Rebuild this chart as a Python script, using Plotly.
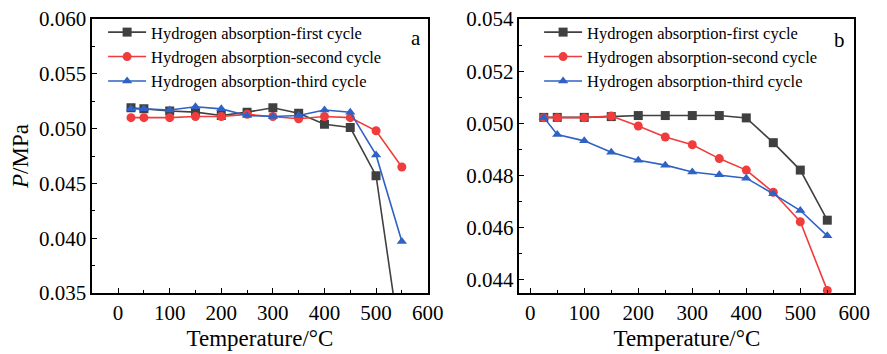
import plotly.graph_objects as go

# ---- data ----
temps = [25, 50, 100, 150, 200, 250, 300, 350, 400, 450, 500, 550]

a_first = [0.0519, 0.0518, 0.0516, 0.0515, 0.0512, 0.0515, 0.0519, 0.0514, 0.0504, 0.0501, 0.0457, 0.0295]
a_second = [0.0510, 0.0510, 0.0510, 0.0511, 0.0511, 0.0513, 0.0511, 0.0509, 0.0511, 0.0510, 0.0498, 0.0465]
a_third = [0.0518, 0.0518, 0.0517, 0.0520, 0.0518, 0.0512, 0.0511, 0.0512, 0.0517, 0.0515, 0.0476, 0.0397]

b_first = [0.05023, 0.05023, 0.05023, 0.05026, 0.0503, 0.0503, 0.0503, 0.0503, 0.05021, 0.04926, 0.04821, 0.04629]
b_second = [0.05022, 0.05022, 0.05022, 0.05028, 0.0499, 0.04948, 0.04918, 0.04865, 0.04821, 0.04736, 0.04623, 0.0436]
b_third = [0.05023, 0.04957, 0.04933, 0.04889, 0.04859, 0.0484, 0.04814, 0.04803, 0.0479, 0.0473, 0.04666, 0.04569]

names = ["Hydrogen absorption-first cycle",
         "Hydrogen absorption-second cycle",
         "Hydrogen absorption-third cycle"]
colors = ["#404040", "#f03c3c", "#2f62c4"]
symbols = ["square", "circle", "triangle-up"]

x_ticks = [0, 100, 200, 300, 400, 500, 600]
a_yticks = [0.035, 0.040, 0.045, 0.050, 0.055, 0.060]
b_yticks = [0.044, 0.046, 0.048, 0.050, 0.052, 0.054]

FONT = "Liberation Serif, Times New Roman, serif"
W, H = 887, 354

fig = go.Figure()

for i, ys in enumerate([a_first, a_second, a_third]):
    fig.add_trace(go.Scatter(
        x=temps, y=ys, name=names[i], mode="lines+markers",
        line=dict(color=colors[i], width=1.6),
        marker=dict(symbol=symbols[i], size=9, color=colors[i]),
        xaxis="x", yaxis="y", legend="legend", cliponaxis=True))

for i, ys in enumerate([b_first, b_second, b_third]):
    fig.add_trace(go.Scatter(
        x=temps, y=ys, name=names[i], mode="lines+markers",
        line=dict(color=colors[i], width=1.6),
        marker=dict(symbol=symbols[i], size=9, color=colors[i]),
        xaxis="x2", yaxis="y2", legend="legend2", cliponaxis=False))

axis_common = dict(
    showline=True, linecolor="black", linewidth=1.5, mirror=True,
    ticks="inside", ticklen=5, tickwidth=1.2, tickcolor="black",
    showgrid=False, zeroline=False,
    tickfont=dict(family=FONT, size=21, color="black"),
    minor=dict(ticks="inside", ticklen=3, tickwidth=1.2, tickcolor="black", showgrid=False),
)

xd1 = [94 / W, 435.5 / W]
xd2 = [529 / W, 870 / W]

fig.update_layout(
    width=W, height=H,
    margin=dict(l=0, r=0, t=19, b=61),
    paper_bgcolor="white", plot_bgcolor="white",
    font=dict(family=FONT, color="black"),
    xaxis=dict(domain=xd1, range=[-50, 600], tickvals=x_ticks, anchor="y",
               title=dict(text="Temperature/°C", font=dict(family=FONT, size=23), standoff=6),
               minor_dtick=50, **axis_common),
    yaxis=dict(range=[0.035, 0.060], tickvals=a_yticks, tickformat=".3f", anchor="x",
               title=dict(text="<i>P</i>/MPa", font=dict(family=FONT, size=23), standoff=4),
               minor_dtick=0.0025, **axis_common),
    xaxis2=dict(domain=xd2, range=[-20, 600], tickvals=x_ticks, anchor="y2",
                title=dict(text="Temperature/°C", font=dict(family=FONT, size=23), standoff=6),
                minor_dtick=50, **axis_common),
    yaxis2=dict(range=[0.0435, 0.054], tickvals=b_yticks, tickformat=".3f", anchor="x2",
                ticklabelstandoff=0, minor_dtick=0.001, **axis_common),
    legend=dict(x=105 / W, y=1.015,
                xanchor="left", yanchor="top", bgcolor="rgba(0,0,0,0)",
                font=dict(family=FONT, size=16.5), tracegroupgap=0, itemwidth=38),
    legend2=dict(x=549 / W, y=1.015,
                 xanchor="left", yanchor="top", bgcolor="rgba(0,0,0,0)",
                 font=dict(family=FONT, size=16.5), tracegroupgap=0, itemwidth=38),
    annotations=[
        dict(text="a", x=424 / W, y=1 - (38 - 19) / 274, xref="paper", yref="paper",
             xanchor="center", yanchor="middle",
             showarrow=False, font=dict(family=FONT, size=21)),
        dict(text="b", x=855 / W, y=1 - (40 - 19) / 274, xref="paper", yref="paper",
             xanchor="center", yanchor="middle",
             showarrow=False, font=dict(family=FONT, size=21)),
    ],
    showlegend=True,
)

fig.write_html("out.html")
